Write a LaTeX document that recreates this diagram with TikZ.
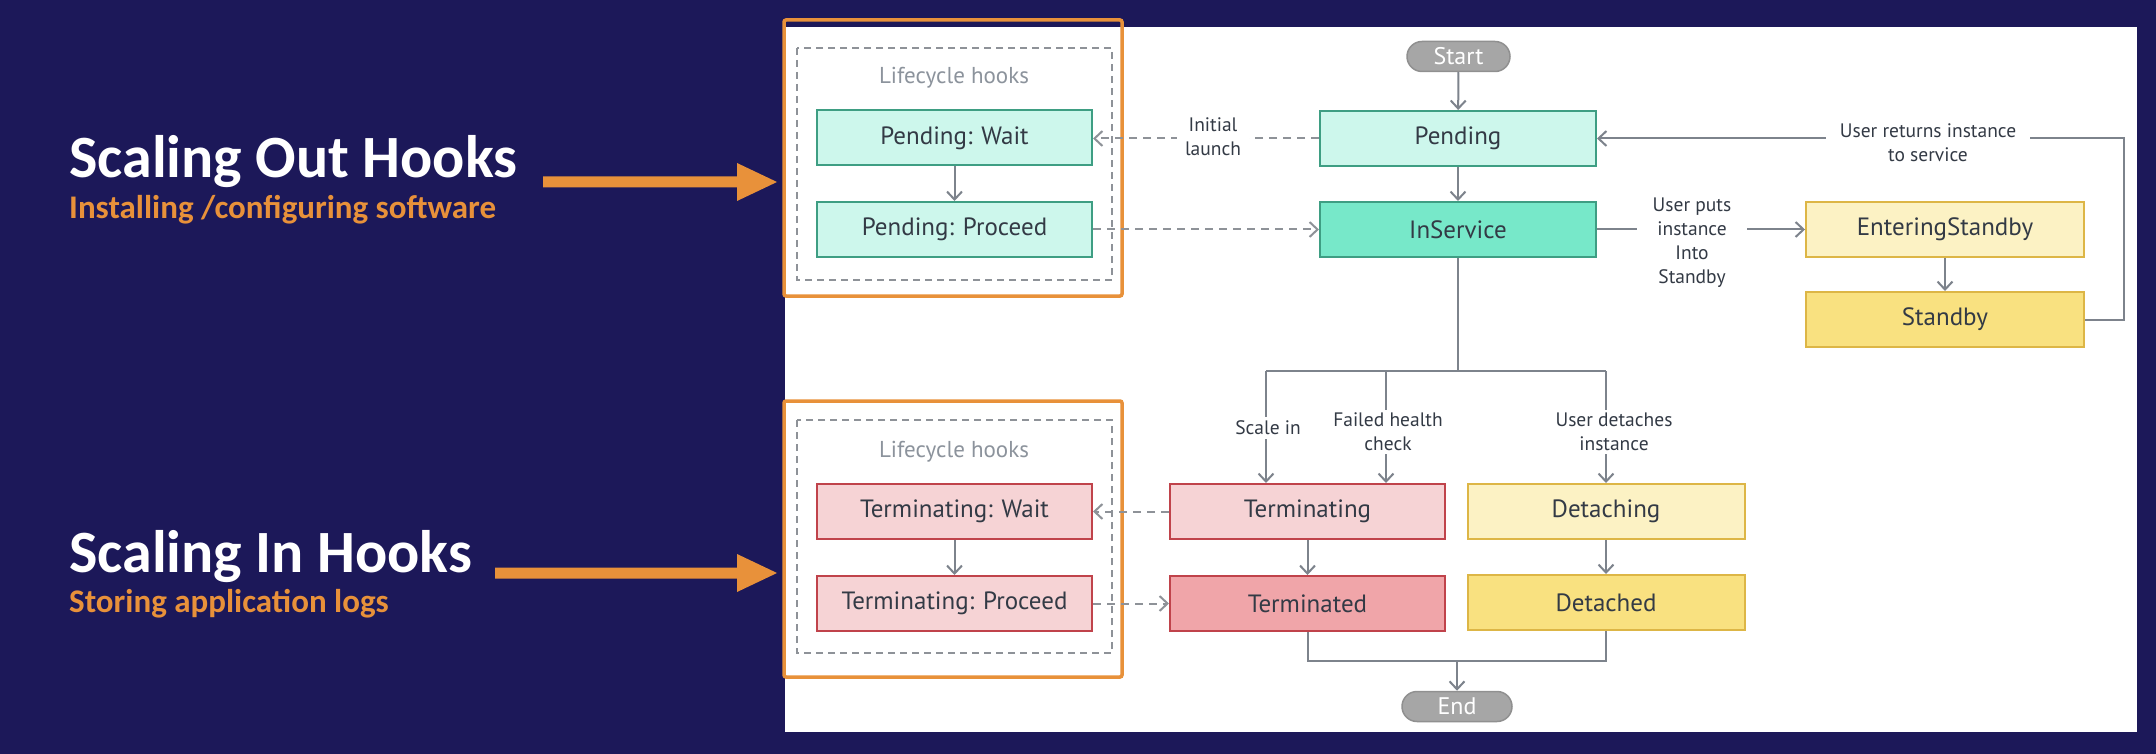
\documentclass[tikz,border=0pt]{standalone}
\usepackage{fontspec}
\setmainfont{PT Sans}
\newfontfamily\calibfont{Carlito}
\usetikzlibrary{arrows.meta,calc}
\definecolor{navy}{HTML}{1C1859}
\definecolor{orng}{HTML}{E8913A}
\definecolor{txt}{HTML}{333A45}
\definecolor{hookgrey}{HTML}{8C939C}
\definecolor{conngrey}{HTML}{7D838C}
\definecolor{dashgrey}{HTML}{8E9298}
\definecolor{mintfill}{HTML}{CDF7EC}
\definecolor{mintdark}{HTML}{77E8C9}
\definecolor{grnline}{HTML}{3E9E83}
\definecolor{pinkfill}{HTML}{F6D3D5}
\definecolor{pinkdark}{HTML}{F0A5A9}
\definecolor{redline}{HTML}{C0434B}
\definecolor{yelfill}{HTML}{FCF2C4}
\definecolor{yeldark}{HTML}{F9E180}
\definecolor{yelline}{HTML}{DDB646}
\definecolor{pillfill}{HTML}{A6A6A6}
\definecolor{pillline}{HTML}{909090}
\begin{document}
\begin{tikzpicture}[x=1pt,y=-1pt,
  statebox/.style={draw, line width=2pt, minimum width=275pt, minimum height=55pt,
    inner sep=0pt, font=\fontsize{25}{30}\selectfont, text=txt},
  mintbox/.style={statebox, draw=grnline, fill=mintfill},
  servbox/.style={statebox, draw=grnline, fill=mintdark},
  pinkbox/.style={statebox, draw=redline, fill=pinkfill},
  pinkdbox/.style={statebox, draw=redline, fill=pinkdark},
  yelbox/.style={statebox, draw=yelline, fill=yelfill},
  yeldbox/.style={statebox, draw=yelline, fill=yeldark},
  pill/.style={draw=pillline, line width=1.5pt, fill=pillfill, rounded corners=15pt,
    minimum height=30pt, inner sep=0pt, text=white, font=\fontsize{24}{28}\selectfont},
  lbl/.style={fill=white, align=center, text=txt, font=\fontsize{19.5}{24}\selectfont,
    inner xsep=4pt, inner ysep=3pt},
  hooklbl/.style={text=hookgrey, font=\fontsize{23}{28}\selectfont, inner sep=0pt},
  conn/.style={draw=conngrey, line width=2pt},
  arr/.style={conn, -{Straight Barb[length=8pt,width=15pt]}},
  darr/.style={draw=dashgrey, line width=2pt, dash pattern=on 8pt off 6pt,
    -{Straight Barb[length=8pt,width=15pt]}},
  hookframe/.style={draw=dashgrey, line width=1.5pt, dash pattern=on 7pt off 5pt},
  orngframe/.style={draw=orng, line width=3.5pt, rounded corners=2pt},
  bigtitle/.style={anchor=base west, inner sep=0pt, text=white,
    font=\calibfont\bfseries\fontsize{60}{66}\selectfont},
  subtitle/.style={anchor=base west, inner sep=0pt, text=orng,
    font=\calibfont\bfseries\fontsize{33}{38}\selectfont}
]
\useasboundingbox (0,0) rectangle (2156,754);
\fill[navy] (0,0) rectangle (2156,754);
\fill[white] (785,27) rectangle (2137,732);

% left captions
\node[bigtitle] (t1) at (69,178) {Scaling Out Hooks};
\node[subtitle] (s1) at (69,219) {Installing /configuring software};
\node[bigtitle] (t2) at (69,572) {Scaling In Hooks};
\node[subtitle] (s2) at (69,612) {Storing application logs};

% orange arrows
\fill[orng] (543,176.5) -- (737,176.5) -- (737,163) -- (777,182) -- (737,201)
  -- (737,187.5) -- (543,187.5) -- cycle;
\fill[orng] (495,567.5) -- (737,567.5) -- (737,554) -- (777,573) -- (737,592)
  -- (737,578.5) -- (495,578.5) -- cycle;

% lifecycle hook frames
\draw[hookframe] (797,48) rectangle (1112,280);
\draw[hookframe] (797,420) rectangle (1112,653);
\node[hooklbl] (h1) at (954,78) {Lifecycle hooks};
\node[hooklbl] (h2) at (954,452) {Lifecycle hooks};

% states
\node[pill, minimum width=103pt] (start) at (1458.5,56.5) {Start};
\node[mintbox] (pw) at (954.5,138) {Pending: Wait};
\node[mintbox] (pp) at (954.5,229.5) {Pending: Proceed};
\node[mintbox, minimum width=276pt] (pend) at (1458,138.5) {Pending};
\node[servbox, minimum width=276pt] (ins) at (1458,229.5) {InService};
\node[yelbox, minimum width=278pt] (es) at (1945,229.5) {EnteringStandby};
\node[yeldbox, minimum width=278pt] (sb) at (1945,319.5) {Standby};
\node[pinkbox] (tw) at (954.5,511.5) {Terminating: Wait};
\node[pinkbox] (tp) at (954.5,603.5) {Terminating: Proceed};
\node[pinkbox] (term) at (1307.5,511.5) {Terminating};
\node[pinkdbox] (termd) at (1307.5,603.5) {Terminated};
\node[yelbox, minimum width=277pt] (det) at (1606,511.5) {Detaching};
\node[yeldbox, minimum width=277pt] (detd) at (1606,602.5) {Detached};
\node[pill, minimum width=110pt] (end) at (1457,706.5) {End};

% orange highlight frames
\draw[orngframe] (784,20) rectangle (1122,296);
\draw[orngframe] (784,401) rectangle (1122,677);

% connectors
\draw[arr] (start) -- (pend);
\draw[arr] (pend) -- (ins);
\draw[arr] (pw) -- (pp);
\draw[arr] (tw) -- (tp);
\draw[arr] (term) -- (termd);
\draw[arr] (det) -- (detd);
\draw[arr] (es) -- (sb);
\draw[darr] (pend.west) -- (pend.west -| pw.east);
\draw[darr] (pp.east) -- (ins.west);
\draw[darr] (term.west) -- (tw.east);
\draw[darr] (tp.east) -- (termd.west);
\draw[arr] (ins.east) -- (es.west);
\draw[arr] (sb.east) -- ++(39,0) |- (pend.east);

\coordinate (fork) at (1458,371);
\coordinate (bscale) at (1266,371);
\coordinate (bfail) at (1386,371);
\coordinate (bdet) at (1606,371);
\draw[conn] (ins.south) -- (fork);
\draw[conn] (bscale) -- (bdet);
\draw[arr] (bscale) -- (bscale |- term.north);
\draw[arr] (bfail) -- (bfail |- term.north);
\draw[arr] (bdet) -- (det.north);

\coordinate (mrg) at (1457,661);
\draw[conn] (termd.south) |- (mrg) -| (detd.south);
\draw[arr] (mrg) -- (end.north);

% labels
\node[lbl, inner xsep=8pt] (linit) at (1213,137) {Initial\\launch};
\node[lbl, inner xsep=14pt] (lret) at (1928,143) {User returns instance\\to service};
\node[lbl, inner xsep=16pt] (lput) at (1692,243) {User puts\\instance\\Into\\Standby};
\node[lbl, inner ysep=4pt] (lscale) at (1268,428) {Scale in};
\node[lbl] (lfail) at (1388,432) {Failed health\\check};
\node[lbl] (ldet) at (1614,432) {User detaches\\instance};
\end{tikzpicture}
\end{document}
